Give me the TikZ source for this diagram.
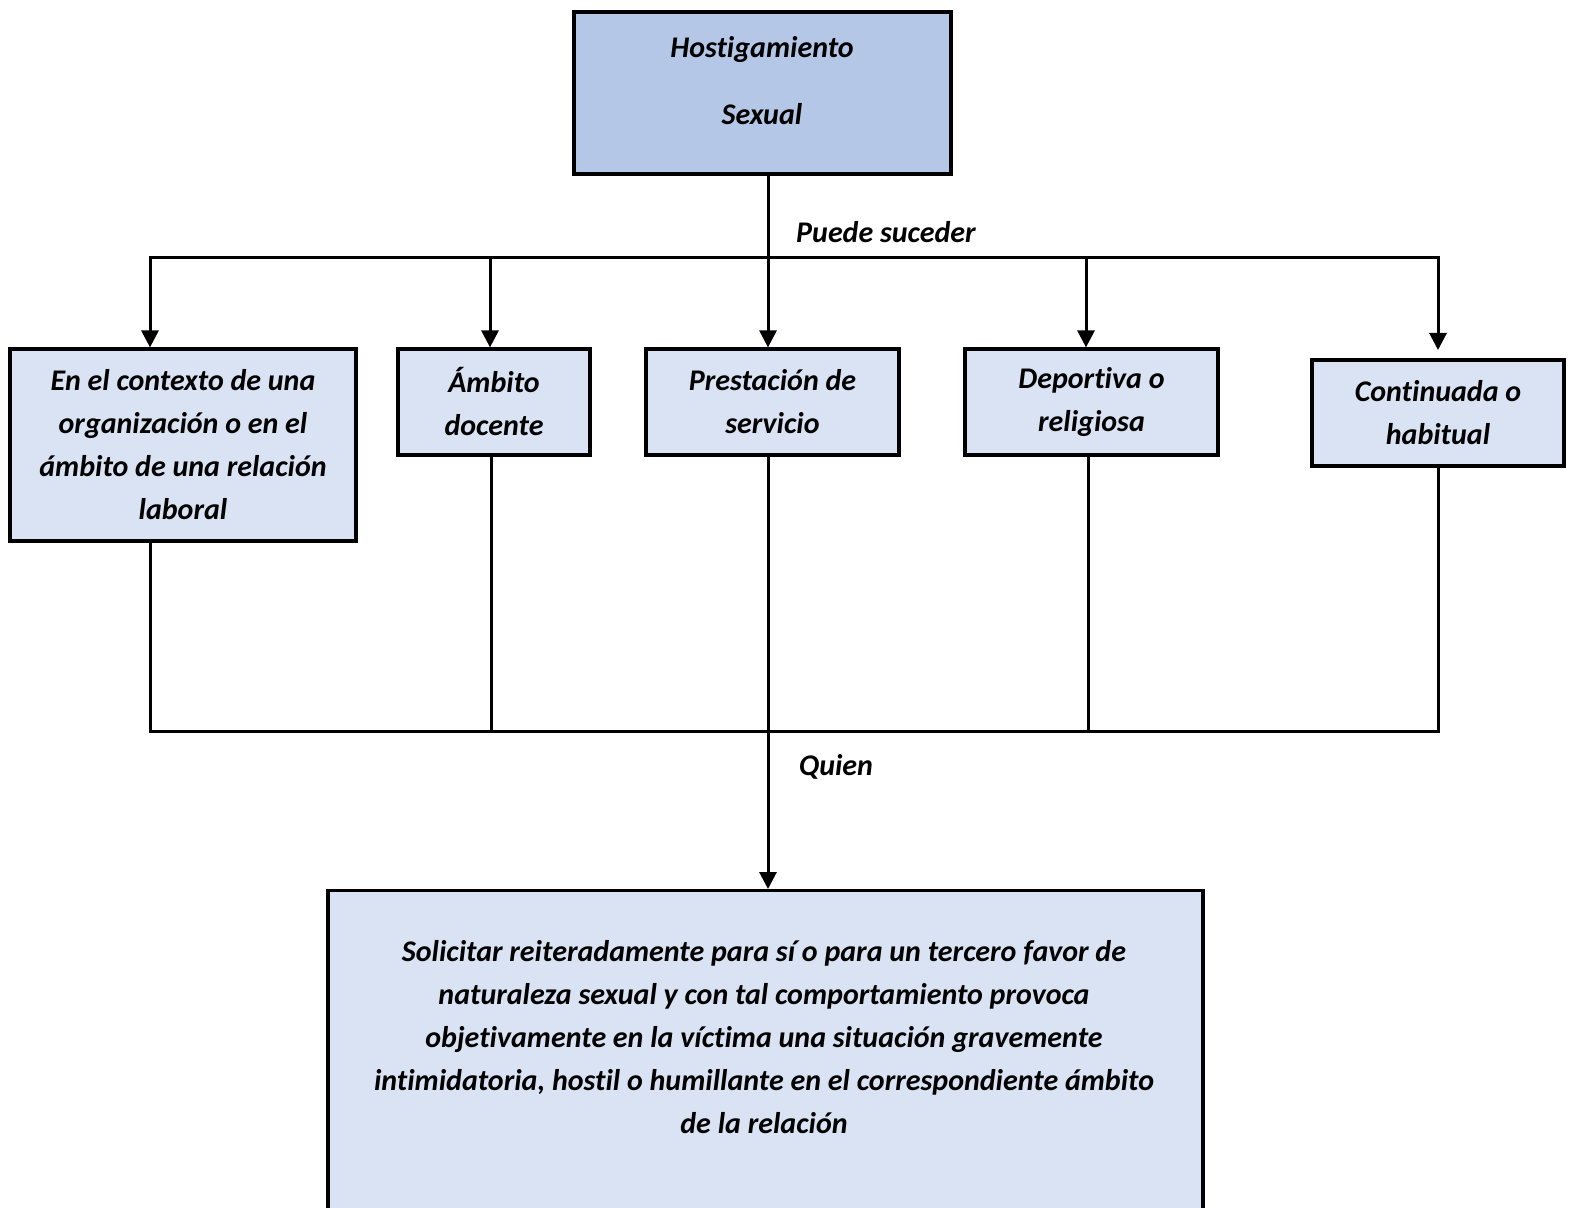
\documentclass[tikz,border=0pt]{standalone}
\usepackage{fontspec}
\setmainfont{Carlito}[Ligatures=NoCommon]
\usetikzlibrary{positioning}
\usetikzlibrary{arrows.meta}
\definecolor{hsblue}{HTML}{B4C7E7}
\definecolor{boxblue}{HTML}{DAE3F3}
\tikzset{
    mybox/.style = {rectangle, line width=1.6pt, draw=black, align=center, fill=boxblue, inner sep=0pt, text=black},
    myboxd/.style = {mybox, fill=hsblue},
    mytext/.style = {align=center, inner sep=0pt, text=black},
    edgen/.style = {-, line width=1.5pt, black},
    edgea/.style = {-{Triangle[width=8.5pt,length=8.5pt]}, line width=1.5pt, black}, % down
    font issue/.style={execute at begin picture={#1\selectfont}}
}

\begin{document}
\begin{tikzpicture}[
  x=0.5pt, y=-0.5pt,
  font issue=\fontsize{15pt}{21.5pt}\bfseries\itshape,
  font=\fontsize{15pt}{21.5pt}\bfseries\itshape]
  \useasboundingbox (0,0) rectangle (1574,1208);
  \clip (0,0) rectangle (1574,1208);

  % boxes
  \node[myboxd, minimum width=188.5pt, minimum height=81pt] (hs) at (762.5,93) {};
  \node[mytext] (hstxt) at (762,81) {Hostigamiento\\[12pt]Sexual};
  \node[mybox, minimum width=173pt, minimum height=96pt] (org) at (183,445)
    {En el contexto de una\\organización o en el\\ámbito de una relación\\laboral};
  \node[mybox, minimum width=96pt, minimum height=53pt] (doc) at (494,402) {Ámbito\\docente};
  \node[mybox, minimum width=126.5pt, minimum height=53pt] (serv) at (772.5,402) {Prestación de\\servicio};
  \node[mybox, minimum width=126.5pt, minimum height=53pt] (dep) at (1091.5,402) {Deportiva o\\religiosa};
  \node[mybox, minimum width=126pt, minimum height=53pt] (cont) at (1438,413) {Continuada o\\habitual};
  \node[mybox, minimum width=437.5pt, minimum height=180pt, anchor=north] (fin) at (765.5,889) {};
  \node[mytext] (fintxt) at (764,1037)
    {Solicitar reiteradamente para sí o para un tercero favor de\\
     naturaleza sexual y con tal comportamiento provoca\\
     objetivamente en la víctima una situación gravemente\\
     intimidatoria, hostil o humillante en el correspondiente ámbito\\
     de la relación};

  % labels
  \node[mytext] (lpuede) at (886,232) {Puede suceder};
  \node[mytext] (lquien) at (836,767) {Quien};

  % bus points
  \coordinate (t1) at (150,258);
  \coordinate (t2) at (490,258);
  \coordinate (t3) at (768,258);
  \coordinate (t4) at (1086,258);
  \coordinate (t5) at (1438,350);
  \coordinate (u1) at (150,731);
  \coordinate (u2) at (491,731);
  \coordinate (u3) at (768,731);
  \coordinate (u4) at (1088,731);
  \coordinate (u5) at (1438,731);

  % top connectors
  \draw[edgea] (hs.south -| t3) -- (serv.north -| t3);
  \draw[edgea] (t3) -| (org.north -| t1);
  \draw[edgea] (t3) -| (t5);
  \draw[edgea] (t2) -- (doc.north -| t2);
  \draw[edgea] (t4) -- (dep.north -| t4);

  % bottom connectors
  \draw[edgen] (org.south -| u1) |- (u3);
  \draw[edgen] (cont.south -| u5) |- (u3);
  \draw[edgen] (doc.south -| u2) -- (u2);
  \draw[edgen] (dep.south -| u4) -- (u4);
  \draw[edgea] (serv.south -| u3) -- (fin.north -| u3);
\end{tikzpicture}
\end{document}
